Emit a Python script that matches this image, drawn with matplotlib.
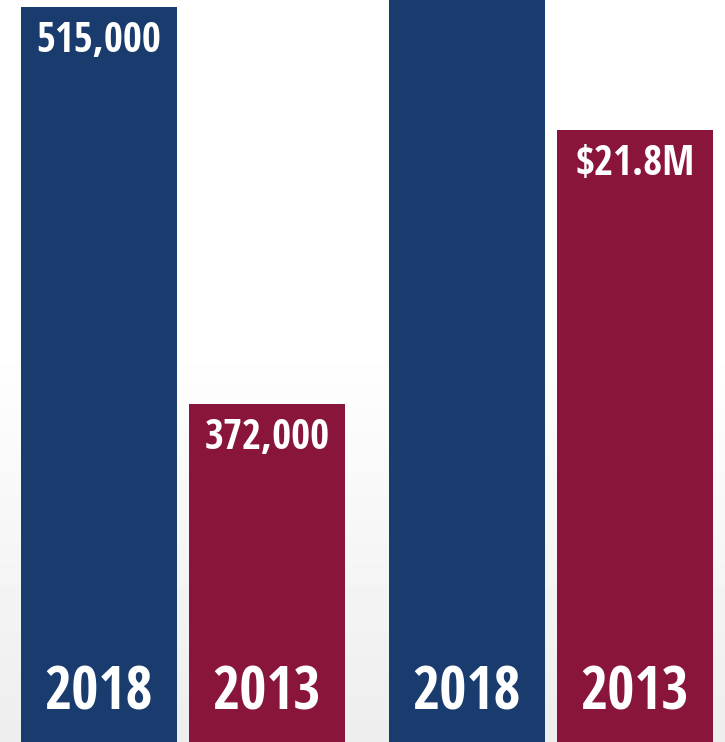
import numpy as np
import matplotlib
matplotlib.use("Agg")
import matplotlib.pyplot as plt
from matplotlib import font_manager as fm

# ---- data ----
years = ["2018", "2013"]
attendance = [515000, 372000]
attendance_labels = ["515,000", "372,000"]
impact_musd = [26.5, 21.8]          # 2018 value is cut off in the source (estimate)
impact_labels = ["", "$21.8M"]

NAVY = "#1a3b6e"
MAROON = "#89153a"
colors = [NAVY, MAROON]

# ---- font: try to find a bold condensed face ----
def pick_font():
    prefs = ["open sans", "noto sans", "roboto", "dejavu sans", "liberation sans", "lato", "inter"]
    cands = []
    for f in fm.fontManager.ttflist:
        name = (f.name + " " + f.fname).lower()
        if ("condensed" in name or "narrow" in name) and ("semicondensed" not in name.replace(" ", "")) \
                and "extracondensed" not in name.replace(" ", "") and "ultracondensed" not in name.replace(" ", ""):
            w = f.weight if isinstance(f.weight, int) else (700 if "bold" in str(f.weight).lower() else 400)
            if w >= 600 and "italic" not in name and "extrabold" not in name.replace(" ", "") and "black" not in name:
                rank = next((i for i, p in enumerate(prefs) if p in name), len(prefs))
                cands.append((rank, abs(w - 700), f.fname))
    if cands:
        cands.sort()
        return fm.FontProperties(fname=cands[0][2]), True
    return fm.FontProperties(family="Open Sans", weight="bold"), False

fp, condensed = pick_font()

W, H = 725, 742
fig = plt.figure(figsize=(W / 100, H / 100), dpi=100)

# background gradient
bg = fig.add_axes([0, 0, 1, 1])
grad = np.concatenate([np.ones(45), np.linspace(1.0, 0.93, 55)])[:, None]
bg.imshow(np.repeat(grad, 2, axis=1), cmap="gray", vmin=0, vmax=1, aspect="auto",
          extent=[0, 1, 0, 1], origin="upper")
bg.axis("off")

def panel(rect, values, labels, ylim, xlim, val_fs):
    ax = fig.add_axes(rect)
    ax.patch.set_alpha(0)
    x = np.arange(len(values))
    ax.bar(x, values, width=156 / 168, color=colors, zorder=2)
    ax.set_ylim(*ylim)
    ax.set_xlim(*xlim)
    ax.axis("off")
    for xi, v, lab, yr in zip(x, values, labels, years):
        if lab:
            ax.annotate(lab, (xi, v), xytext=(0, -14), textcoords="offset pixels",
                        ha="center", va="top", color="white", fontproperties=fp,
                        fontsize=val_fs, clip_on=False)
        ax.annotate(yr, (xi, ylim[0]), xytext=(0, 18), textcoords="offset pixels",
                    ha="center", va="bottom", color="white", fontproperties=fp,
                    fontsize=val_fs * 1.43)
    return ax

fs = 29.5 if condensed else 23
panel([0, 0, 362.5 / W, 1], attendance, attendance_labels,
      (250200, 517500), (-99 / 168, 263.5 / 168), fs)
panel([362.5 / W, 0, 362.5 / W, 1], impact_musd, impact_labels,
      (11.59, 23.97), (-104.5 / 168, 258 / 168), fs)

fig.savefig("out.png", dpi=100)
